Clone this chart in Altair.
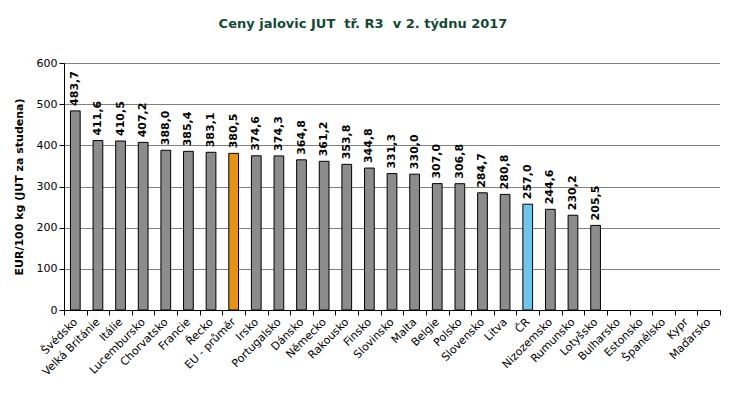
import altair as alt
import pandas as pd

countries = ["Švédsko", "Velká Británie", "Itálie", "Lucembursko", "Chorvatsko", "Francie",
             "Řecko", "EU - průměr", "Irsko", "Portugalsko", "Dánsko", "Německo", "Rakousko",
             "Finsko", "Slovinsko", "Malta", "Belgie", "Polsko", "Slovensko", "Litva", "ČR",
             "Nizozemsko", "Rumunsko", "Lotyšsko", "Bulharsko", "Estonsko", "Španělsko",
             "Kypr", "Maďarsko"]
values = [483.7, 411.6, 410.5, 407.2, 388.0, 385.4, 383.1, 380.5, 374.6, 374.3, 364.8,
          361.2, 353.8, 344.8, 331.3, 330.0, 307.0, 306.8, 284.7, 280.8, 257.0, 244.6,
          230.2, 205.5, None, None, None, None, None]
groups = ["EU - průměr", "ČR"]

df = pd.DataFrame({"country": countries, "value": values})
df["group"] = df["country"].apply(lambda c: c if c in groups else "ostatní")
df["label"] = df["value"].apply(lambda v: "" if pd.isna(v) else f"{v:.1f}".replace(".", ","))

FONT = "DejaVu Sans"

x = alt.X("country:N", sort=countries, title=None,
          scale=alt.Scale(paddingInner=0, paddingOuter=0),
          axis=alt.Axis(labelAngle=-45, labelAlign="right", labelBaseline="middle",
                        labelFont=FONT, labelFontSize=11, labelColor="black",
                        tickBand="extent", tickColor="black", tickSize=5,
                        domainColor="black", labelPadding=5, grid=False))
y = alt.Y("value:Q", title="EUR/100 kg (JUT za studena)",
          scale=alt.Scale(domain=[0, 600]),
          axis=alt.Axis(values=[0, 100, 200, 300, 400, 500, 600], labelFont=FONT,
                        labelFontSize=11, labelColor="black", titleFont=FONT,
                        titleFontSize=11, titleFontWeight="bold", titleColor="black",
                        titlePadding=12, tickColor="black", tickSize=5, domainColor="black",
                        grid=True, gridColor="black", gridDash=[1, 1], gridOpacity=1))

base = alt.Chart(df)

bars = base.mark_bar(stroke="black", strokeWidth=1, width=alt.RelativeBandSize(0.43)).encode(
    x=x, y=y,
    color=alt.Color("group:N", legend=None,
                    scale=alt.Scale(domain=["ostatní", "EU - průměr", "ČR"],
                                    range=["#8c8c8c", "#e8920e", "#6ec6ea"])),
)

labels = base.mark_text(angle=270, align="left", baseline="middle", dx=5,
                        font=FONT, fontSize=11, fontWeight="bold", color="black").encode(
    x=alt.X("country:N", sort=countries), y=alt.Y("value:Q"), text="label:N"
)

chart = alt.layer(bars, labels).properties(
    width=656, height=247,
    title=alt.TitleParams("Ceny jalovic JUT\u00a0 tř. R3\u00a0 v 2. týdnu 2017", font=FONT,
                          fontSize=13, fontWeight="bold", color="#124a34",
                          anchor="middle", dx=-29, offset=26),
    autosize=alt.AutoSizeParams(type="none"),
    padding={"left": 56, "top": 55, "right": 6, "bottom": 82},
).configure_view(stroke=None)

chart.save("out.html", embed_options={"renderer": "svg", "actions": False})
